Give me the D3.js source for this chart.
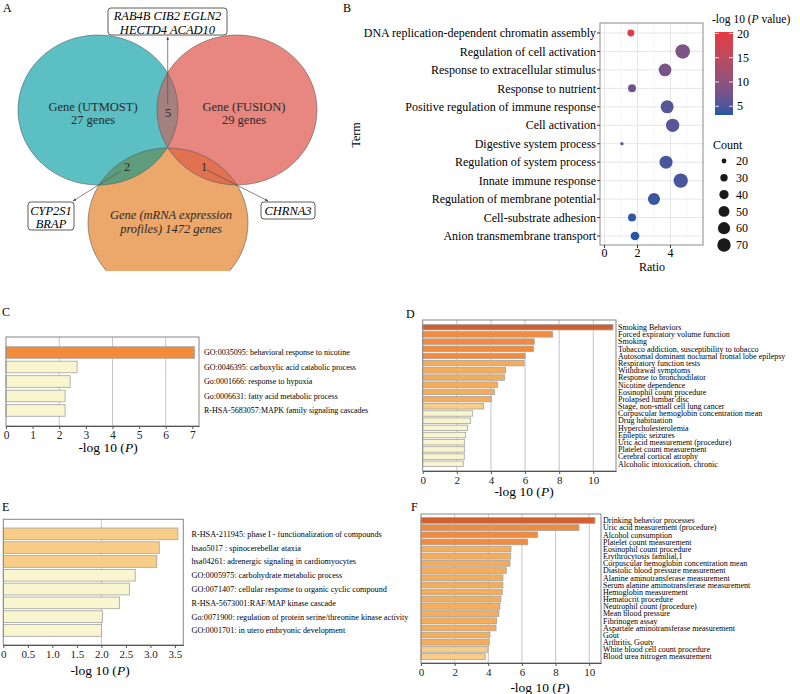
<!DOCTYPE html>
<html><head><meta charset="utf-8">
<script src="https://cdn.jsdelivr.net/npm/d3@7"></script>
<style>
body{margin:0;background:#fff}
svg{display:block}
text{font-family:"Liberation Serif","Times New Roman",serif;fill:#000}
</style>
</head><body>
<svg id="chart" width="800" height="694"></svg>
<script>
// ---------------- DATA ----------------
// Panel A (Venn)
const vennSetNames = ["Gene (UTMOST)", "Gene (FUSION)", "Gene (mRNA expression", "profiles) 1472 genes"];
const vennSetCounts = ["27 genes", "29 genes"];
const vennOverlapCounts = ["5", "2", "1"];
const genesUF = ["RAB4B CIB2 EGLN2", "HECTD4 ACAD10"];
const genesUM = ["CYP2S1", "BRAP"];
const genesFM = ["CHRNA3"];

// Panel B (bubble)
const bTerms = ["DNA replication-dependent chromatin assembly","Regulation of cell activation","Response to extracellular stimulus","Response to nutrient","Positive regulation of immune response","Cell activation","Digestive system process","Regulation of system process","Innate immune response","Regulation of membrane potential","Cell-substrate adhesion","Anion transmembrane transport"];
const bRatio = [1.6, 4.74, 3.67, 1.67, 3.8, 4.13, 1.06, 3.73, 4.62, 3.0, 1.67, 1.85];
const bCount = [28, 80, 64, 33, 67, 69, 16, 67, 78, 59, 33, 37];
const bLogP  = [19, 8.5, 8, 7, 5.5, 5.5, 5, 4.5, 4.5, 4, 3.5, 3.2];
const bRatioTicks = [0, 2, 4];
const bColorBreaks = [5, 10, 15, 20];
const bCountBreaks = [20, 30, 40, 50, 60, 70];

// Panel C
const cTerms = ["GO:0035095: behavioral response to nicotine","GO:0046395: carboxylic acid catabolic process","Go:0001666: response to hypoxia","Go:0006631: fatty acid metabolic process","R-HSA-5683057:MAPK family signaling cascades"];
const cValues = [7.08, 2.67, 2.41, 2.22, 2.22];
const cTicks = [0,1,2,3,4,5,6,7];

// Panel D
const dTerms = ["Smoking Behaviors","Forced expiratory volume function","Smoking","Tobacco addiction, susceptibility to tobacco","Autosomal dominant nocturnal frontal lobe epilepsy","Respiratory function tests","Withdrawal symptoms","Response to bronchodilator","Nicotine dependence","Eosinophil count procedure","Prolapsed lumbar disc","Stage, non-small cell lung cancer","Corpuscular hemoglobin concentration mean","Drug habituation","Hypercholesterolemia","Epileptic seizures","Uric acid measurement (procedure)","Platelet count measurement","Cerebral cortical atrophy","Alcoholic intoxication, chronic"];
const dValues = [11.15, 7.62, 6.54, 6.49, 6.0, 5.94, 4.86, 4.8, 4.38, 4.2, 4.02, 3.57, 2.93, 2.81, 2.64, 2.52, 2.46, 2.46, 2.44, 2.38];
const dTicks = [0,2,4,6,8,10];

// Panel E
const eTerms = ["R-HSA-211945: phase I - functionalization of compounds","hsao5017 : spinocerebellar ataxia","hsa04261: adrenergic signaling in cardiomyocytes","GO:0005975: carbohydrate metabolic process","GO:0071407: cellular response to organic cyclic compound","R-HSA-5673001:RAF/MAP kinase cascade","Go:0071900: regulation of protein serine/threonine kinase activity","GO:0001701: in utero embryonic development"];
const eValues = [3.56, 3.18, 3.13, 2.69, 2.57, 2.37, 2.02, 2.0];
const eTicks = [0,0.5,1,1.5,2,2.5,3,3.5];

// Panel F
const fTerms = ["Drinking behavior processes","Uric acid measurement (procedure)","Alcohol consumption","Platelet count measurement","Eosinophil count procedure","Erythrocytosis familial,1","Corpuscular hemoglobin concentration mean","Diastolic blood pressure measurement","Alanine aminotransferase measurement","Serum alanine aminotransferase measurement","Hemoglobin measurement","Hematocrit procedure","Neutrophil count (procedure)","Mean blood pressure","Fibrinogen assay","Aspartate aminotransferase measurement","Gout","Arthritis, Gouty","White blood cell count procedure","Blood urea nitrogen measurement"];
const fValues = [10.34, 9.39, 6.93, 6.34, 5.35, 5.33, 5.29, 5.07, 4.87, 4.87, 4.83, 4.75, 4.69, 4.63, 4.5, 4.46, 4.1, 4.06, 3.98, 3.82];
const fTicks = [0,2,4,6,8,10];

// ---------------- DRAW ----------------
const svg = d3.select("#chart");
const sans = '"Liberation Sans",Arial,sans-serif';
const defs = svg.append("defs");

// panel letters
[["A",3,12],["B",343,12],["C",2,316],["D",406,318],["E",2,511],["F",411,511]].forEach(([t,x,y])=>{
  svg.append("text").attr("x",x).attr("y",y).attr("font-family",sans).attr("font-size",12).text(t);
});

// ======= Panel A: Venn =======
(function(){
  const g = svg.append("g");
  defs.append("clipPath").attr("id","clipA").append("rect").attr("x",0).attr("y",0).attr("width",340).attr("height",271);
  const rx = 80, ry = 75;
  const circ = {
    U: {cx: 98, cy: 110, fill: "#5bbfc3"},
    F: {cx: 237, cy: 110, fill: "#e8877f"},
    M: {cx: 168, cy: 223, fill: "#eca76a"}
  };
  Object.entries(circ).forEach(([k,c])=>{
    defs.append("clipPath").attr("id","clip"+k).append("ellipse").attr("cx",c.cx).attr("cy",c.cy).attr("rx",rx).attr("ry",ry);
  });
  const gc = g.append("g").attr("clip-path","url(#clipA)");
  ["M","U","F"].forEach(k=>{
    const c = circ[k];
    gc.append("ellipse").attr("cx",c.cx).attr("cy",c.cy).attr("rx",rx).attr("ry",ry).attr("fill",c.fill);
  });
  const ov = [["U","F","#a4807f"],["U","M","#5f9c7c"],["F","M","#e2714f"]];
  ov.forEach(([a,b,col])=>{
    const c = circ[a];
    gc.append("g").attr("clip-path",`url(#clip${b})`).append("ellipse")
      .attr("cx",c.cx).attr("cy",c.cy).attr("rx",rx).attr("ry",ry).attr("fill",col);
  });
  ["M","U","F"].forEach(k=>{
    const c = circ[k];
    gc.append("ellipse").attr("cx",c.cx).attr("cy",c.cy).attr("rx",rx).attr("ry",ry)
      .attr("fill","none").attr("stroke","#5a5a5a").attr("stroke-width",0.6);
  });
  const lab = (x,y,t,it)=>g.append("text").attr("x",x).attr("y",y).attr("text-anchor","middle")
    .attr("font-size",12.5).attr("font-style",it?"italic":"normal").style("fill","#2a2a2a").text(t);
  lab(93,111,vennSetNames[0]); lab(93,124,vennSetCounts[0]);
  lab(244,111,vennSetNames[1]); lab(244,124,vennSetCounts[1]);
  lab(171,219,vennSetNames[2],true); lab(171,233,vennSetNames[3],true);
  lab(168,117,vennOverlapCounts[0]); lab(127,171,vennOverlapCounts[1]); lab(204,171,vennOverlapCounts[2]);

  defs.append("marker").attr("id","arr").attr("viewBox","0 0 10 10").attr("refX",9).attr("refY",5)
    .attr("markerWidth",5).attr("markerHeight",5).attr("orient","auto")
    .append("path").attr("d","M0,1 L10,5 L0,9 z").attr("fill","#444");
  const line = (x1,y1,x2,y2)=>g.append("line").attr("x1",x1).attr("y1",y1).attr("x2",x2).attr("y2",y2)
    .attr("stroke","#555").attr("stroke-width",0.7).attr("marker-end","url(#arr)");
  line(167.7,104,167.7,37);
  line(121,171,73,201);
  line(207,170,268,201);

  const box = (x,y,w,h,lines,cx,y0,dy)=>{
    g.append("rect").attr("x",x).attr("y",y).attr("width",w).attr("height",h).attr("rx",3)
      .attr("fill","#fff").attr("stroke","#333").attr("stroke-width",0.8);
    lines.forEach((t,i)=>g.append("text").attr("x",cx).attr("y",y0+i*dy).attr("text-anchor","middle")
      .attr("font-size",12.5).attr("font-style","italic").text(t));
  };
  box(108,8,119,27,genesUF,167.5,20,13.5);
  box(28,202,46,28,genesUM,51,214.5,13.5);
  box(261,202,54,17,genesFM,288,214.5,13);
})();

// ======= Panel B: bubble =======
(function(){
  const g = svg.append("g");
  const L=600, R=703, T=23, B=245;
  const x = d3.scaleLinear().domain([-0.27, 5.97]).range([L, R]);
  const y = d3.scalePoint().domain(bTerms).range([33, 236]);
  const area = d3.scaleLinear().domain([20,70]).range([5.76, 44.9]);
  const r = c => Math.sqrt(Math.max(1.5, area(c)));
  const col = d3.scaleLinear().domain([3.2, 20.3]).range(["#2457a6","#e6383f"]).interpolate(d3.interpolateLab);

  g.append("rect").attr("x",L).attr("y",T).attr("width",R-L).attr("height",B-T).attr("fill","#fff");
  g.selectAll(".gmin").data([1,3,5]).join("line").attr("class","gmin")
    .attr("x1",d=>x(d)).attr("x2",d=>x(d)).attr("y1",T).attr("y2",B).attr("stroke","#f3f3f3").attr("stroke-width",0.7);
  g.selectAll(".gmaj").data(bRatioTicks).join("line").attr("class","gmaj")
    .attr("x1",d=>x(d)).attr("x2",d=>x(d)).attr("y1",T).attr("y2",B).attr("stroke","#e6e6e6").attr("stroke-width",1);
  g.selectAll(".gh").data(bTerms).join("line").attr("class","gh")
    .attr("x1",L).attr("x2",R).attr("y1",d=>y(d)).attr("y2",d=>y(d)).attr("stroke","#e6e6e6").attr("stroke-width",1);
  g.selectAll(".pt").data(bTerms).join("circle").attr("class","pt")
    .attr("cx",(d,i)=>x(bRatio[i])).attr("cy",d=>y(d)).attr("r",(d,i)=>r(bCount[i]))
    .attr("fill",(d,i)=>col(bLogP[i]));
  g.append("rect").attr("x",L).attr("y",T).attr("width",R-L).attr("height",B-T)
    .attr("fill","none").attr("stroke","#8a8a8a").attr("stroke-width",1);
  g.selectAll(".yt").data(bTerms).join("line").attr("class","yt")
    .attr("x1",L-3).attr("x2",L).attr("y1",d=>y(d)).attr("y2",d=>y(d)).attr("stroke","#333");
  g.selectAll(".yl").data(bTerms).join("text").attr("class","yl")
    .attr("x",L-4).attr("y",d=>y(d)).attr("dy","0.35em").attr("text-anchor","end").attr("font-size",12).text(d=>d);
  g.selectAll(".xt").data(bRatioTicks).join("line").attr("class","xt")
    .attr("x1",d=>x(d)).attr("x2",d=>x(d)).attr("y1",B).attr("y2",B+3).attr("stroke","#333");
  g.selectAll(".xl").data(bRatioTicks).join("text").attr("class","xl")
    .attr("x",d=>x(d)).attr("y",B+12).attr("text-anchor","middle").attr("font-size",12).text(d=>d);
  g.append("text").attr("x",652).attr("y",271).attr("text-anchor","middle").attr("font-size",12).text("Ratio");
  g.append("text").attr("transform","translate(360,135) rotate(-90)").attr("text-anchor","middle").attr("font-size",12).text("Term");

  const t = g.append("text").attr("x",712).attr("y",23).attr("font-size",11.5);
  t.append("tspan").text("-log 10 (");
  t.append("tspan").attr("font-style","italic").text("P");
  t.append("tspan").text(" value)");
  const yl = d3.scaleLinear().domain([3.2, 20.3]).range([115, 32]);
  const grad = defs.append("linearGradient").attr("id","gradB").attr("x1",0).attr("x2",0).attr("y1",1).attr("y2",0);
  d3.range(0,1.0001,0.1).forEach(s=>{
    grad.append("stop").attr("offset",s).attr("stop-color",col(3.2+s*(20.3-3.2)));
  });
  g.append("rect").attr("x",715).attr("y",32).attr("width",18).attr("height",83).attr("fill","url(#gradB)");
  bColorBreaks.forEach(v=>{
    g.append("line").attr("x1",715).attr("x2",719).attr("y1",yl(v)).attr("y2",yl(v)).attr("stroke","#fff").attr("stroke-width",0.8);
    g.append("line").attr("x1",729).attr("x2",733).attr("y1",yl(v)).attr("y2",yl(v)).attr("stroke","#fff").attr("stroke-width",0.8);
    g.append("text").attr("x",737).attr("y",yl(v)).attr("dy","0.35em").attr("font-size",12).text(v);
  });
  g.append("text").attr("x",713).attr("y",149).attr("font-size",12).text("Count");
  const ys = d3.scalePoint().domain(bCountBreaks).range([161, 245]);
  g.selectAll(".lc").data(bCountBreaks).join("circle").attr("class","lc")
    .attr("cx",724).attr("cy",d=>ys(d)).attr("r",d=>r(d)).attr("fill","#1a1a1a");
  g.selectAll(".ll").data(bCountBreaks).join("text").attr("class","ll")
    .attr("x",736).attr("y",d=>ys(d)).attr("dy","0.35em").attr("font-size",12).text(d=>d);
})();

// ======= Bar panels =======
const barColor = d3.scaleThreshold().domain([3,4,6,10])
  .range(["#f8f5cf","#f7cd88","#f6ad5a","#f38b3b","#d3602c"]);

function barPanel(c){
  const g = svg.append("g");
  const x = d3.scaleLinear().domain([0, c.xMax]).range([c.left, c.right]);
  const y = d3.scaleBand().domain(c.labels).range([c.top, c.bottom]).paddingInner(c.pi).paddingOuter(c.po);
  g.selectAll(".grid").data(c.grid).join("line").attr("class","grid")
    .attr("x1",d=>x(d)).attr("x2",d=>x(d)).attr("y1",c.top).attr("y2",c.bottom)
    .attr("stroke","#c4c4c4").attr("stroke-width",1);
  g.selectAll(".bar").data(c.labels).join("rect").attr("class","bar")
    .attr("x",x(0)).attr("y",d=>y(d)).attr("width",(d,i)=>x(c.values[i])-x(0)).attr("height",y.bandwidth())
    .attr("fill",(d,i)=>barColor(c.values[i])).attr("stroke","#a3a3a3").attr("stroke-width",0.8);
  g.append("rect").attr("x",c.left).attr("y",c.top).attr("width",c.right-c.left).attr("height",c.bottom-c.top)
    .attr("fill","none").attr("stroke","#858585").attr("stroke-width",1);
  const ax = g.append("g").attr("transform",`translate(0,${c.bottom})`)
    .call(d3.axisBottom(x).tickValues(c.ticks).tickFormat(c.fmt).tickSize(3).tickSizeOuter(0).tickPadding(2));
  ax.select(".domain").attr("stroke","#555");
  ax.selectAll("line").attr("stroke","#555");
  ax.selectAll("text").attr("font-family",'"Liberation Serif","Times New Roman",serif')
    .attr("font-size",c.tickFont).style("fill","#222");
  g.selectAll(".lab").data(c.labels).join("text").attr("class","lab")
    .attr("x",c.labelX).attr("y",d=>y(d)+y.bandwidth()/2).attr("dy","0.35em")
    .attr("font-size",c.labelFont).text(d=>d);
  const t = g.append("text").attr("x",c.titleX).attr("y",c.titleY).attr("text-anchor","middle").attr("font-size",13.5);
  t.append("tspan").text("-log 10 (");
  t.append("tspan").attr("font-style","italic").text("P");
  t.append("tspan").text(")");
}

barPanel({labels:cTerms, values:cValues, xMax:7.25, left:6, right:199, top:337, bottom:426, pi:0.2, po:0.67,
  grid:[2,4,6], ticks:cTicks, fmt:d3.format("d"), tickFont:11.5, labelX:204, labelFont:8, titleX:108, titleY:452});
barPanel({labels:dTerms, values:dValues, xMax:11.33, left:422.7, right:616, top:320, bottom:471, pi:0.235, po:0.62,
  grid:[2,4,6,8,10], ticks:dTicks, fmt:d3.format("d"), tickFont:11, labelX:618, labelFont:8, titleX:524, titleY:496});
barPanel({labels:eTerms, values:eValues, xMax:3.67, left:3.3, right:183.3, top:519.3, bottom:645, pi:0.15, po:0.63,
  grid:[2], ticks:eTicks, fmt:d=>d===0?"0":d.toFixed(1), tickFont:11, labelX:191.5, labelFont:8.2, titleX:100, titleY:675});
barPanel({labels:fTerms, values:fValues, xMax:10.7, left:421, right:601, top:514, bottom:663, pi:0.2, po:0.5,
  grid:[2,4,6,8,10], ticks:fTicks, fmt:d3.format("d"), tickFont:11, labelX:603, labelFont:8, titleX:540, titleY:692});
</script>
</body></html>
